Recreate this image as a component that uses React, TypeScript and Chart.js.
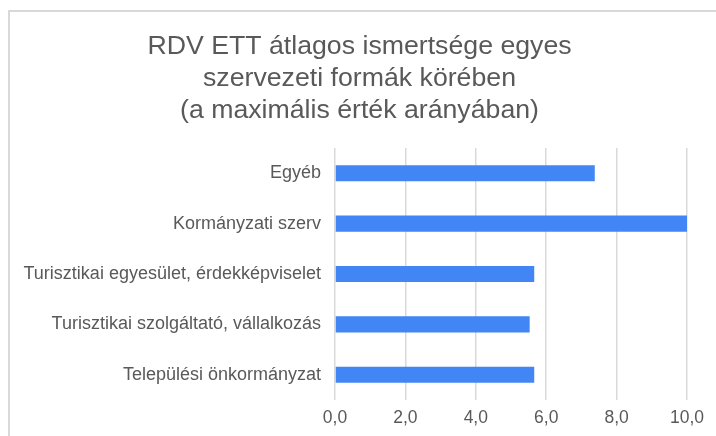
import React, { useEffect, useRef } from "react";
import { Chart, registerables } from "chart.js";

Chart.register(...registerables);

const categories = [
  "Egyéb",
  "Kormányzati szerv",
  "Turisztikai egyesület, érdekképviselet",
  "Turisztikai szolgáltató, vállalkozás",
  "Települési önkormányzat",
];
const values = [7.38, 10.0, 5.66, 5.53, 5.66];
const titleLines = [
  "RDV ETT átlagos ismertsége egyes",
  "szervezeti formák körében",
  "(a maximális érték arányában)",
];
const xMin = 0;
const xMax = 10;
const xStep = 2;

const FONT = '"Liberation Sans", Arial, sans-serif';
const TEXT = "#595959";
const GRID = "#d9d9d9";

const titlePlugin = {
  id: "customTitle",
  afterDraw(chart: any) {
    const ctx = chart.ctx;
    ctx.save();
    ctx.font = `26.7px ${FONT}`;
    ctx.fillStyle = TEXT;
    ctx.textAlign = "center";
    ctx.textBaseline = "alphabetic";
    const baselines = [54, 86, 118];
    titleLines.forEach((t, i) => ctx.fillText(t, 359.5, baselines[i]));
    ctx.restore();
  },
};

export default function App() {
  const ref = useRef<HTMLCanvasElement | null>(null);
  useEffect(() => {
    document.body.style.overflow = "hidden";
    Chart.defaults.font.family = FONT;
    const chart = new Chart(ref.current as HTMLCanvasElement, {
      type: "bar",
      data: {
        labels: categories,
        datasets: [
          {
            data: values,
            backgroundColor: "#4285F4",
            borderWidth: 0,
            barPercentage: 0.32,
            categoryPercentage: 1,
          },
        ],
      },
      options: {
        indexAxis: "y",
        animation: false,
        responsive: false,
        devicePixelRatio: 1,
        layout: { padding: { left: 8, right: 29, top: 148, bottom: 0 } },
        plugins: {
          legend: { display: false },
          title: { display: false },
          tooltip: { enabled: false },
        },
        scales: {
          x: {
            min: xMin,
            max: xMax,
            ticks: {
              stepSize: xStep,
              color: TEXT,
              font: { size: 17.5 },
              padding: 8,
              callback: (v: any) => Number(v).toFixed(1).replace(".", ","),
            },
            grid: { color: GRID, lineWidth: 1.5, drawTicks: false },
            border: { display: false },
            afterFit: (s: any) => {
              s.height = 36;
            },
          },
          y: {
            ticks: { color: TEXT, font: { size: 18 }, padding: 14 },
            grid: { display: false, drawTicks: false },
            border: { display: false },
            afterFit: (s: any) => {
              s.width = 327;
            },
          },
        },
      },
      plugins: [titlePlugin],
    });
    return () => chart.destroy();
  }, []);
  return (
    <div style={{ position: "fixed", left: 0, top: 0, width: 716, height: 436, background: "#fff" }}>
      <div
        style={{
          position: "fixed",
          left: 8,
          top: 10,
          width: 900,
          height: 700,
          border: `2px solid ${GRID}`,
          boxSizing: "border-box",
        }}
      />
      <canvas
        ref={ref}
        width={716}
        height={436}
        style={{ position: "fixed", left: 0, top: 0, width: 716, height: 436 }}
      />
    </div>
  );
}
